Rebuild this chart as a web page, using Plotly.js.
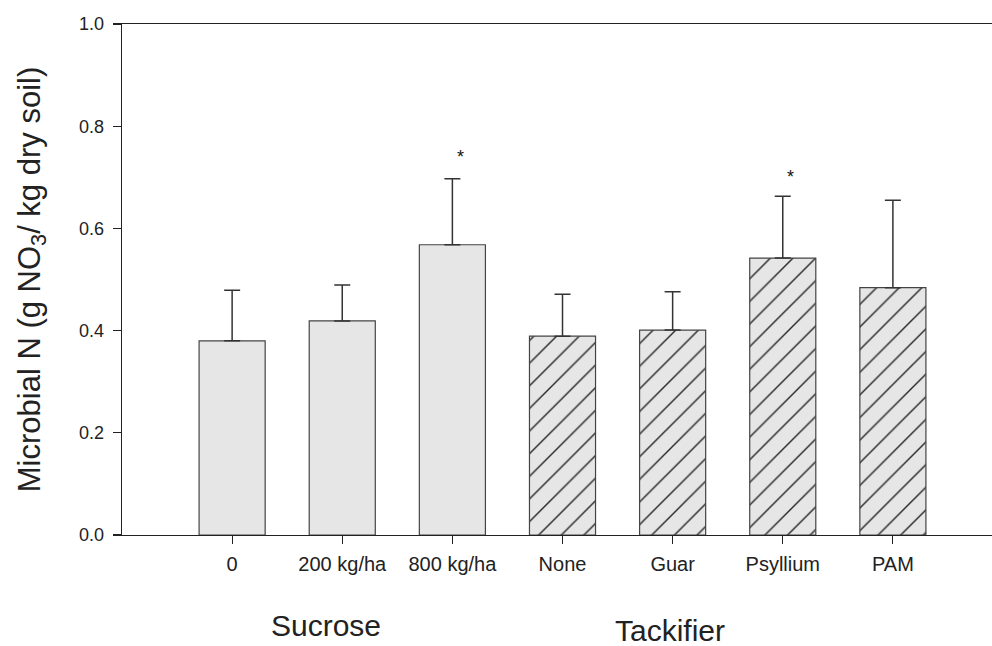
<!DOCTYPE html>
<html>
<head>
<meta charset="utf-8">
<script src="https://cdn.plot.ly/plotly-3.0.1.min.js"></script>
<style>html,body{margin:0;padding:0;background:#fff;}#chart{width:992px;height:646px;}</style>
</head>
<body>
<div id="chart"></div>
<script>
// Data
var categories = ['0', '200 kg/ha', '800 kg/ha', 'None', 'Guar', 'Psyllium', 'PAM'];
var means = [0.380, 0.419, 0.568, 0.389, 0.401, 0.542, 0.484];
var errors = [0.099, 0.070, 0.129, 0.082, 0.075, 0.121, 0.171];
var hatch = ['', '', '', '/', '/', '/', '/'];
var starCats = ['800 kg/ha', 'Psyllium'];
var starYs = [0.739, 0.701];
var groupLabels = ['Sucrose', 'Tackifier'];
var groupPos = [0.85, 3.98];
var yTickVals = [0, 0.2, 0.4, 0.6, 0.8, 1.0];

var FONT = 'Liberation Sans, Arial, Helvetica, sans-serif';
var INK = '#222222';
var FILL = '#e6e6e6';

var zeros = means.map(function(){ return 0; });

var trace = {
  type: 'bar',
  x: categories,
  y: means,
  width: 0.6,
  marker: {
    color: FILL,
    line: {color: '#444444', width: 1.2},
    pattern: {shape: hatch, size: 16, solidity: 0.09, fgcolor: '#2a2a2a', bgcolor: FILL, fillmode: 'replace'}
  },
  error_y: {
    type: 'data', symmetric: false, array: errors, arrayminus: zeros,
    color: '#333333', thickness: 1.5, width: 8
  },
  hoverinfo: 'x+y'
};

var annotations = [];
for (var i = 0; i < starCats.length; i++) {
  annotations.push({
    x: starCats[i], y: starYs[i], xref: 'x', yref: 'y',
    text: '*', showarrow: false, xshift: 8, yshift: 0,
    font: {family: FONT, size: 18, color: '#111111'}
  });
}
for (var j = 0; j < groupLabels.length; j++) {
  annotations.push({
    x: groupPos[j], y: j === 0 ? -0.14 : -0.15, xref: 'x', yref: 'paper',
    yanchor: 'top', text: groupLabels[j], showarrow: false,
    font: {family: FONT, size: 30, color: INK}
  });
}

var layout = {
  width: 992, height: 646,
  margin: {l: 122, r: 0, t: 24, b: 111},
  paper_bgcolor: '#ffffff', plot_bgcolor: '#ffffff',
  showlegend: false,
  font: {family: FONT, color: INK},
  xaxis: {
    type: 'category',
    range: [-1.0, 6.9],
    showline: true, mirror: true, linecolor: INK, linewidth: 1.3,
    ticks: 'outside', ticklen: 8, tickwidth: 1.2, tickcolor: INK,
    showgrid: false, zeroline: false,
    tickfont: {family: FONT, size: 20, color: INK},
    ticklabelstandoff: 3
  },
  yaxis: {
    range: [0, 1],
    tickvals: yTickVals,
    tickformat: '.1f',
    showline: true, mirror: false, linecolor: INK, linewidth: 1.3,
    ticks: 'outside', ticklen: 8, tickwidth: 1.2, tickcolor: INK,
    showgrid: false, zeroline: false,
    tickfont: {family: FONT, size: 18, color: INK},
    ticklabelstandoff: 5,
    title: {
      text: 'Microbial N (g NO<sub>3</sub>/ kg dry soil)',
      font: {family: FONT, size: 31, color: INK},
      standoff: 29
    },
    automargin: false
  },
  annotations: annotations
};

Plotly.newPlot('chart', [trace], layout, {displayModeBar: false, staticPlot: true});
</script>
</body>
</html>
